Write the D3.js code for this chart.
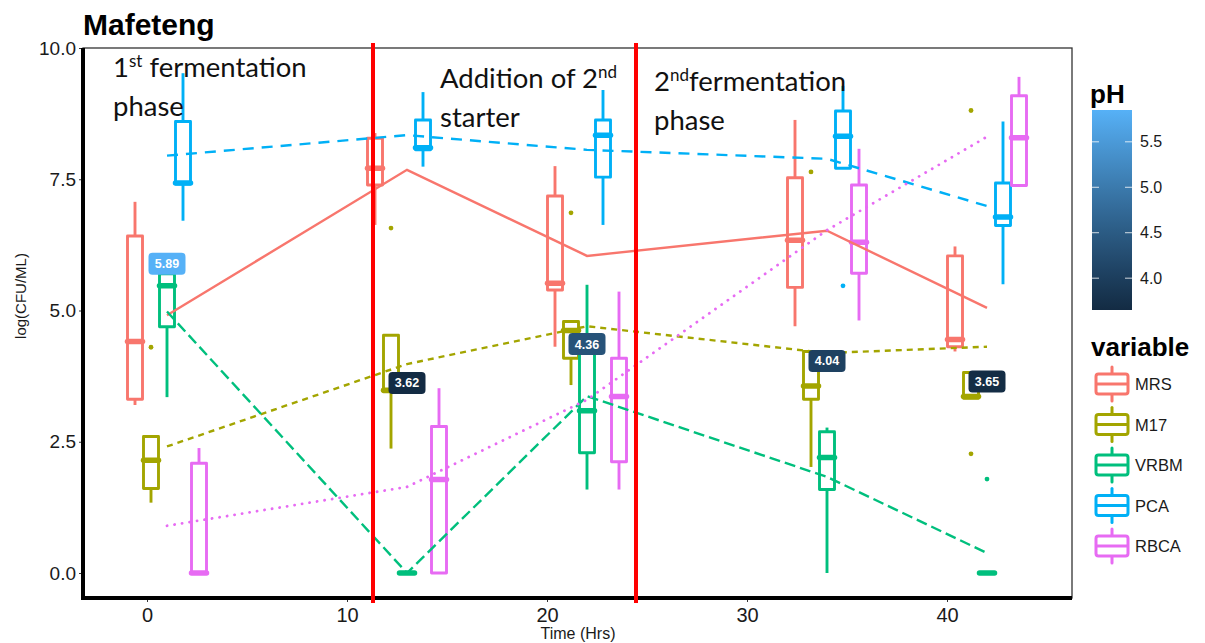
<!DOCTYPE html>
<html>
<head>
<meta charset="utf-8">
<script src="https://cdn.jsdelivr.net/npm/d3@7/dist/d3.min.js"></script>
<style>
  html, body { margin: 0; padding: 0; background: #ffffff; }
  svg { display: block; }
</style>
</head>
<body>
<svg id="chart" width="1205" height="643"></svg>
<script>
// Sampling times (hours) and the media counted at each time
const hours = [1, 13, 22, 34, 42];
const variables = ["MRS", "M17", "VRBM", "PCA", "RBCA"];
const seriesColors = ["#F8766D", "#A3A500", "#00BF7D", "#00B0F6", "#E76BF3"];

// pH measured at each sampling time
const phValues = [5.89, 3.62, 4.36, 4.04, 3.65];

// Box statistics per time: [lower whisker, Q1, median, Q3, upper whisker]
const mrsBox  = [[3.20, 3.31, 4.41, 6.42, 7.07], [6.63, 7.39, 7.71, 8.28, 8.38], [4.31, 5.39, 5.52, 7.18, 7.75], [4.70, 5.44, 6.34, 7.53, 8.63], [4.22, 4.31, 4.45, 6.04, 6.22]];
const m17Box  = [[1.34, 1.61, 2.15, 2.60, 2.60], [2.37, 3.45, 3.48, 4.53, 4.53], [3.58, 4.09, 4.62, 4.79, 4.79], [2.02, 3.31, 3.56, 4.22, 4.22], [3.33, 3.33, 3.36, 3.82, 3.82]];
const vrbmBox = [[3.35, 4.69, 5.47, 5.70, 5.85], [0, 0, 0, 0, 0], [1.59, 2.29, 3.09, 4.30, 5.49], [0.00, 1.59, 2.20, 2.69, 2.77], [0, 0, 0, 0, 0]];
const pcaBox  = [[6.71, 7.41, 7.43, 8.60, 9.52], [7.74, 8.06, 8.10, 8.63, 9.16], [6.63, 7.54, 8.34, 8.63, 9.20], [7.71, 7.71, 8.32, 8.80, 9.28], [5.50, 6.62, 6.78, 7.43, 8.60]];
const rbcaBox = [[0, 0, 0, 2.09, 2.38], [0, 0, 1.78, 2.79, 3.52], [1.59, 2.12, 3.36, 4.09, 5.36], [4.81, 5.71, 6.30, 7.39, 8.08], [7.38, 7.38, 8.29, 9.09, 9.45]];

// Outlying counts: [time, value]
const mrsOutliers  = [];
const m17Outliers  = [[1, 4.30], [13, 6.57], [22, 6.86], [34, 7.64], [42, 8.81], [42, 2.27]];
const vrbmOutliers = [[42, 1.79]];
const pcaOutliers  = [[34, 5.47]];
const rbcaOutliers = [];

// Trend through each medium over time
const mrsTrend  = [4.91, 7.68, 6.04, 6.52, 5.05];
const m17Trend  = [2.41, 3.98, 4.70, 4.19, 4.31];
const vrbmTrend = [4.98, 0.00, 3.37, 1.83, 0.38];
const pcaTrend  = [7.95, 8.34, 8.06, 7.89, 6.99];
const rbcaTrend = [0.90, 1.64, 3.30, 6.53, 8.31];

// Phase boundaries (hours)
const phaseBreaks = [11.3, 24.45];

const xTicks = [0, 10, 20, 30, 40];
const yTicks = [0, 2.5, 5, 7.5, 10];
const phTicks = [4.0, 4.5, 5.0, 5.5];

const boxes = [mrsBox, m17Box, vrbmBox, pcaBox, rbcaBox];
const outliers = [mrsOutliers, m17Outliers, vrbmOutliers, pcaOutliers, rbcaOutliers];
const trends = [mrsTrend, m17Trend, vrbmTrend, pcaTrend, rbcaTrend];
const dashes = [null, "6,5", "11,5", "11,8", "0.1,7.5"];

const svg = d3.select("#chart");
const panel = { left: 83, right: 1072, top: 48, bottom: 598 };

const x = d3.scaleLinear().domain([-3.2, 46.25]).range([panel.left, panel.right]);
const y = d3.scaleLinear().domain([-0.476, 10]).range([panel.bottom, panel.top]);
const dodge = d3.scaleBand().domain(variables).range([-2.0, 2.0]).paddingInner(0);
const boxW = x(0.75) - x(0);
const phColor = d3.scaleLinear().domain([3.62, 5.89]).range(["#132B43", "#56B1F7"]).interpolate(d3.interpolateLab);

const offset = v => dodge(v) + dodge.bandwidth() / 2;

// Panel background
svg.append("rect")
  .attr("x", panel.left).attr("y", panel.top)
  .attr("width", panel.right - panel.left).attr("height", panel.bottom - panel.top)
  .attr("fill", "#ffffff").attr("stroke", "#333333").attr("stroke-width", 1.3);

// Axes
const xAxis = svg.append("g").attr("transform", `translate(0,${panel.bottom})`)
  .call(d3.axisBottom(x).tickValues(xTicks).tickSize(4).tickPadding(6).tickFormat(d3.format("d")));
const yAxis = svg.append("g").attr("transform", `translate(${panel.left},0)`)
  .call(d3.axisLeft(y).tickValues(yTicks).tickSize(4).tickPadding(3).tickFormat(d3.format(".1f")));
[xAxis, yAxis].forEach(g => {
  g.select(".domain").remove();
  g.selectAll(".tick line").attr("stroke", "#333333").attr("stroke-width", 1);
  g.selectAll(".tick text").attr("fill", "#1a1a1a").attr("font-family", "Liberation Sans, Arial, sans-serif").attr("font-size", 19);
});
xAxis.selectAll(".tick text").attr("font-size", 20);

// Thick axis lines
svg.append("line").attr("x1", panel.left).attr("x2", panel.left).attr("y1", panel.top).attr("y2", panel.bottom + 2)
  .attr("stroke", "#000").attr("stroke-width", 4);
svg.append("line").attr("x1", panel.left - 2).attr("x2", panel.right).attr("y1", panel.bottom).attr("y2", panel.bottom)
  .attr("stroke", "#000").attr("stroke-width", 4);

// Axis titles
svg.append("text").attr("x", 578).attr("y", 639).attr("text-anchor", "middle")
  .attr("font-family", "Liberation Sans, Arial, sans-serif").attr("font-size", 16).attr("fill", "#1a1a1a")
  .text("Time (Hrs)");
svg.append("text").attr("transform", "translate(26,296) rotate(-90)").attr("text-anchor", "middle")
  .attr("font-family", "Liberation Sans, Arial, sans-serif").attr("font-size", 15).attr("fill", "#1a1a1a")
  .text("log(CFU/ML)");

// Title
svg.append("text").attr("x", 83).attr("y", 35)
  .attr("font-family", "Liberation Sans, Arial, sans-serif").attr("font-weight", "bold").attr("font-size", 30)
  .attr("fill", "#000").text("Mafeteng");

// Box plots
const plot = svg.append("g");
variables.forEach((v, vi) => {
  const col = seriesColors[vi];
  const g = plot.append("g");
  boxes[vi].forEach((s, ti) => {
    const cx = x(hours[ti] + offset(v));
    const [lo, q1, med, q3, hi] = s;
    g.append("line").attr("x1", cx).attr("x2", cx).attr("y1", y(q3)).attr("y2", y(hi))
      .attr("stroke", col).attr("stroke-width", 2.9);
    g.append("line").attr("x1", cx).attr("x2", cx).attr("y1", y(q1)).attr("y2", y(lo))
      .attr("stroke", col).attr("stroke-width", 2.9);
    g.append("rect").attr("x", cx - boxW / 2).attr("y", y(q3))
      .attr("width", boxW).attr("height", Math.max(0, y(q1) - y(q3)))
      .attr("fill", "#ffffff").attr("stroke", col).attr("stroke-width", 2.9).attr("stroke-linejoin", "round");
    g.append("line").attr("x1", cx - boxW / 2).attr("x2", cx + boxW / 2).attr("y1", y(med)).attr("y2", y(med))
      .attr("stroke", col).attr("stroke-width", 5.5).attr("stroke-linecap", "round");
  });
  outliers[vi].forEach(([t, val]) => {
    g.append("circle").attr("cx", x(t + offset(v))).attr("cy", y(val)).attr("r", 2.4).attr("fill", col);
  });
});

// Trend lines through each medium
const line = d3.line().x((d, i) => x(hours[i])).y(d => y(d));
variables.forEach((v, vi) => {
  const p = plot.append("path").datum(trends[vi]).attr("d", line)
    .attr("fill", "none").attr("stroke", seriesColors[vi]).attr("stroke-width", 2.4);
  if (dashes[vi]) p.attr("stroke-dasharray", dashes[vi]);
  if (vi === 4) p.attr("stroke-linecap", "round").attr("stroke-width", 2.8);
});

// pH labels
hours.forEach((t, i) => {
  const g = svg.append("g").attr("transform", `translate(${x(t)},${y(phValues[i])})`);
  g.append("rect").attr("x", -18.5).attr("y", -11).attr("width", 37).attr("height", 22).attr("rx", 4)
    .attr("fill", phColor(phValues[i]));
  g.append("text").attr("y", 4.5).attr("text-anchor", "middle")
    .attr("font-family", "Liberation Sans, Arial, sans-serif").attr("font-weight", "bold").attr("font-size", 12.5)
    .attr("fill", "#ffffff").text(d3.format(".2f")(phValues[i]));
});

// Phase boundaries
phaseBreaks.forEach(h => {
  svg.append("line").attr("x1", x(h)).attr("x2", x(h)).attr("y1", 43).attr("y2", 603)
    .attr("stroke", "#FF0000").attr("stroke-width", 4);
});

// Phase annotations
const annFont = "Lato, 'Open Sans', sans-serif";
function annotate(xp, yp, parts) {
  const t = svg.append("text").attr("x", xp).attr("y", yp)
    .attr("font-family", annFont).attr("font-size", 27.5).attr("fill", "#111");
  parts.forEach(p => {
    const s = t.append("tspan").text(p.text);
    if (p.sup) s.attr("baseline-shift", "super").attr("font-size", 17);
  });
}
annotate(113, 77, [{ text: "1" }, { text: "st", sup: true }, { text: " fermentation" }]);
annotate(113, 116, [{ text: "phase" }]);
annotate(440, 88, [{ text: "Addition of 2" }, { text: "nd", sup: true }]);
annotate(440, 127, [{ text: "starter" }]);
annotate(654, 91, [{ text: "2" }, { text: "nd", sup: true }, { text: "fermentation" }]);
annotate(654, 130, [{ text: "phase" }]);

// Legend: pH colour bar
const bar = { x: 1092, top: 110, bottom: 310, w: 40 };
const barY = d3.scaleLinear().domain([3.65, 5.85]).range([bar.bottom, bar.top]);
svg.append("text").attr("x", 1090).attr("y", 103)
  .attr("font-family", "Liberation Sans, Arial, sans-serif").attr("font-weight", "bold").attr("font-size", 26)
  .attr("fill", "#000").text("pH");
const grad = svg.append("defs").append("linearGradient").attr("id", "phGrad")
  .attr("x1", 0).attr("y1", 1).attr("x2", 0).attr("y2", 0);
d3.range(0, 1.0001, 0.1).forEach(f => {
  grad.append("stop").attr("offset", f).attr("stop-color", phColor(3.62 + f * (5.89 - 3.62)));
});
svg.append("rect").attr("x", bar.x).attr("y", bar.top).attr("width", bar.w).attr("height", bar.bottom - bar.top)
  .attr("fill", "url(#phGrad)");
phTicks.forEach(p => {
  const yy = barY(p);
  svg.append("line").attr("x1", bar.x).attr("x2", bar.x + 7).attr("y1", yy).attr("y2", yy)
    .attr("stroke", "#ffffff").attr("stroke-width", 1).attr("opacity", 0.8);
  svg.append("line").attr("x1", bar.x + bar.w - 7).attr("x2", bar.x + bar.w).attr("y1", yy).attr("y2", yy)
    .attr("stroke", "#ffffff").attr("stroke-width", 1).attr("opacity", 0.8);
  svg.append("text").attr("x", 1140).attr("y", yy + 5.5)
    .attr("font-family", "Liberation Sans, Arial, sans-serif").attr("font-size", 16).attr("fill", "#1a1a1a")
    .text(d3.format(".1f")(p));
});

// Legend: media
svg.append("text").attr("x", 1091).attr("y", 356)
  .attr("font-family", "Liberation Sans, Arial, sans-serif").attr("font-weight", "bold").attr("font-size", 26)
  .attr("fill", "#000").text("variable");
variables.forEach((v, i) => {
  const cy = 384 + i * 40.5;
  const col = seriesColors[i];
  const g = svg.append("g");
  g.append("line").attr("x1", 1112).attr("x2", 1112).attr("y1", cy - 17).attr("y2", cy + 17)
    .attr("stroke", col).attr("stroke-width", 3).attr("stroke-linecap", "round");
  g.append("rect").attr("x", 1096).attr("y", cy - 10).attr("width", 32).attr("height", 20).attr("rx", 2.5)
    .attr("fill", "#ffffff").attr("stroke", col).attr("stroke-width", 3);
  g.append("line").attr("x1", 1096).attr("x2", 1128).attr("y1", cy).attr("y2", cy)
    .attr("stroke", col).attr("stroke-width", 3);
  g.append("text").attr("x", 1135).attr("y", cy + 6)
    .attr("font-family", "Liberation Sans, Arial, sans-serif").attr("font-size", 16.5).attr("fill", "#1a1a1a")
    .text(v);
});
</script>
</body>
</html>
